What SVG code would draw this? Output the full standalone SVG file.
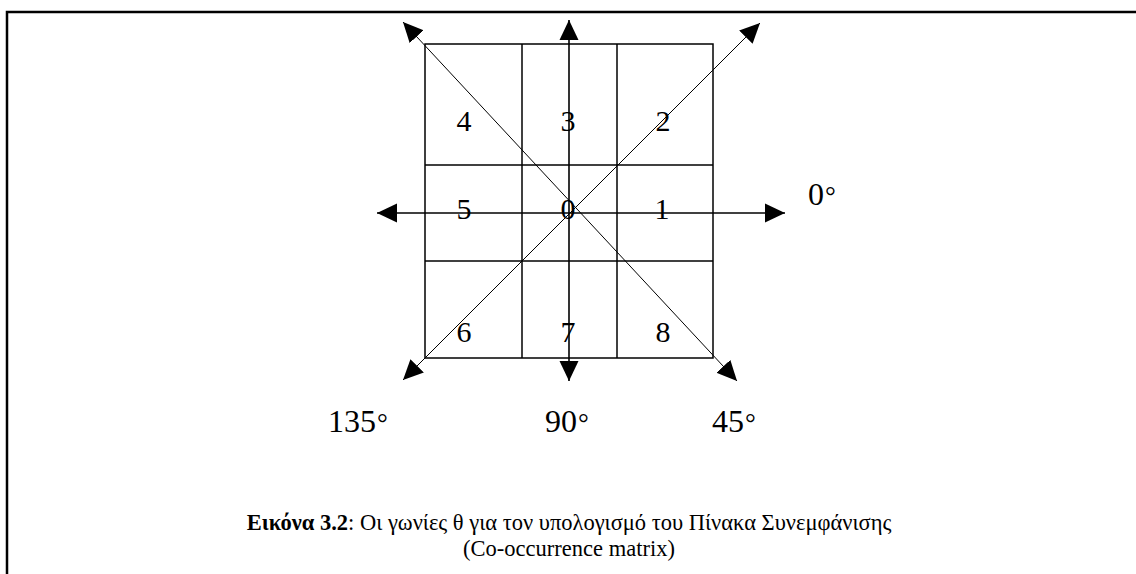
<svg xmlns="http://www.w3.org/2000/svg" width="1136" height="574" viewBox="0 0 1136 574">
<style>
.frame{stroke:#000;stroke-width:2.5;fill:none}
.grid{stroke:#000;stroke-width:1.5;fill:none}
.axis{stroke:#000;stroke-width:1.6;fill:none}
.diag{stroke:#000;stroke-width:1;fill:none}
.num{font-family:"Liberation Serif","Times New Roman",serif;font-size:30px;text-anchor:middle;fill:#000}
.deg{font-family:"Liberation Serif","Times New Roman",serif;font-size:32px;fill:#000}
.sup{font-size:27px}
.cap{font-family:"Liberation Serif","Times New Roman",serif;font-size:22.5px;text-anchor:middle;fill:#000}
</style>
<defs>
<marker id="ah" markerUnits="userSpaceOnUse" markerWidth="20" markerHeight="20" viewBox="0 0 20 20" refX="20" refY="10" orient="auto-start-reverse">
<path d="M0,0.5 L20,10 L0,19.5 z" fill="#000"/>
</marker>
</defs>
<rect width="1136" height="574" fill="#fff"/>
<g id="frame">
<polyline class="frame" points="7,574 7,12 1136,12"/>
</g>
<g id="grid">
<rect class="grid" x="425" y="44" width="288" height="314"/>
<line class="grid" x1="522" y1="44" x2="522" y2="358"/>
<line class="grid" x1="617" y1="44" x2="617" y2="358"/>
<line class="grid" x1="425" y1="165" x2="713" y2="165"/>
<line class="grid" x1="425" y1="261" x2="713" y2="261"/>
</g>
<g id="connectors">
<line class="axis" x1="377" y1="213" x2="785" y2="213" marker-start="url(#ah)" marker-end="url(#ah)"/>
<line class="axis" x1="569" y1="20" x2="569" y2="381" marker-start="url(#ah)" marker-end="url(#ah)"/>
<line class="diag" x1="403" y1="22" x2="737" y2="381" marker-start="url(#ah)" marker-end="url(#ah)"/>
<line class="diag" x1="403" y1="380" x2="760" y2="23" marker-start="url(#ah)" marker-end="url(#ah)"/>
</g>
<g id="cells">
<text class="num" x="464" y="131">4</text>
<text class="num" x="568" y="131">3</text>
<text class="num" x="663" y="131">2</text>
<text class="num" x="464" y="219">5</text>
<text class="num" x="568" y="219">0</text>
<text class="num" x="662" y="219">1</text>
<text class="num" x="464" y="342">6</text>
<text class="num" x="568" y="342">7</text>
<text class="num" x="663" y="342">8</text>
</g>
<g id="angles">
<text class="deg" x="808" y="205">0<tspan class="sup" dx="1">°</tspan></text>
<text class="deg" x="328" y="432">135<tspan class="sup" dx="1">°</tspan></text>
<text class="deg" x="545" y="432">90<tspan class="sup" dx="1">°</tspan></text>
<text class="deg" x="712" y="432">45<tspan class="sup" dx="1">°</tspan></text>
</g>
<g id="caption">
<text class="cap" x="569" y="530"><tspan font-weight="bold">Εικόνα 3.2</tspan>: Οι γωνίες θ για τον υπολογισμό του Πίνακα Συνεμφάνισης</text>
<text class="cap" x="569" y="556">(Co-occurrence matrix)</text>
</g>
</svg>
